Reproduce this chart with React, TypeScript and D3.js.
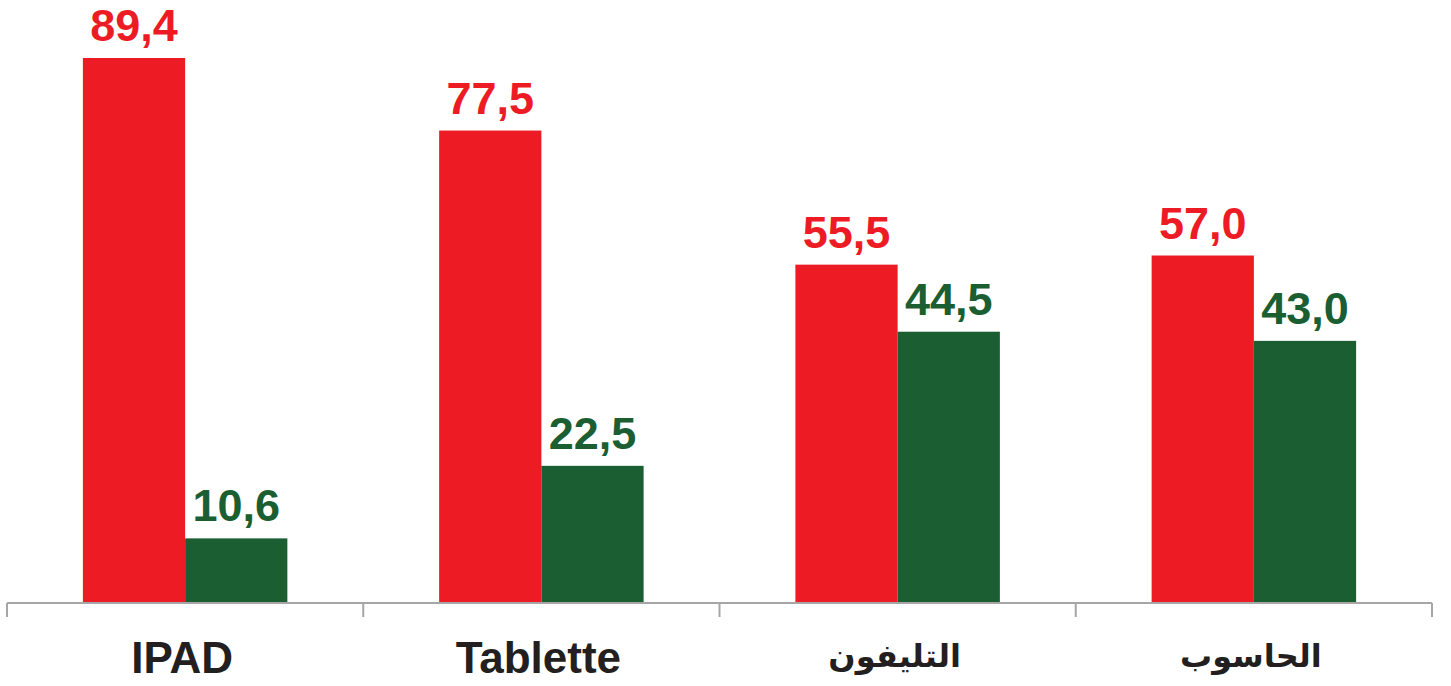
import { useRef, useEffect } from "react";
import * as d3 from "d3";

const categories = ["IPAD", "Tablette", "التليفون", "الحاسوب"];
const redValues = [89.4, 77.5, 55.5, 57.0];
const greenValues = [10.6, 22.5, 44.5, 43.0];
const seriesColors = ["#ED1C24", "#1B5E32"];

const width = 1451;
const height = 686;

export default function App() {
  const svgRef = useRef<SVGSVGElement>(null);

  useEffect(() => {
    if (!svgRef.current) return;
    const margin = { top: 0, right: 19, bottom: 83, left: 7 };
    const innerWidth = width - margin.left - margin.right;
    const baseY = height - margin.bottom;

    d3.select(svgRef.current).selectAll("*").remove();
    const svg = d3.select(svgRef.current);
    const g = svg.append("g").attr("transform", `translate(${margin.left},0)`);

    const x = d3.scaleBand<string>().domain(categories).range([0, innerWidth]).paddingInner(0).paddingOuter(0);
    const groupWidth = x.bandwidth() * 0.574;
    const sub = d3.scaleBand<number>().domain([0, 1]).range([0, groupWidth]);
    const y = d3.scaleLinear().domain([0, 89.4]).range([baseY, 58]);

    const fmt = (v: number) => v.toFixed(1).replace(".", ",");
    const series = [redValues, greenValues];

    series.forEach((vals, si) => {
      categories.forEach((cat, i) => {
        const bx = x(cat)! + (x.bandwidth() - groupWidth) / 2 + sub(si)!;
        g.append("rect")
          .attr("x", bx)
          .attr("y", y(vals[i]))
          .attr("width", sub.bandwidth())
          .attr("height", baseY - y(vals[i]))
          .attr("fill", seriesColors[si]);
        g.append("text")
          .attr("x", bx + sub.bandwidth() / 2)
          .attr("y", y(vals[i]) - 17)
          .attr("text-anchor", "middle")
          .style("font-family", "'Liberation Sans', Arial, sans-serif")
          .style("font-weight", "bold")
          .style("font-size", "45px")
          .attr("fill", seriesColors[si])
          .text(fmt(vals[i]));
      });
    });

    // Axis line with tick marks between categories
    const axis = g.append("g").attr("transform", `translate(0,${baseY})`);
    axis.append("line")
      .attr("x1", 0).attr("x2", innerWidth)
      .attr("y1", 0).attr("y2", 0)
      .attr("stroke", "#A6A6A6").attr("stroke-width", 2);
    const tickXs = categories.map((c) => x(c)!).concat([innerWidth]);
    axis.selectAll("line.tick")
      .data(tickXs)
      .join("line")
      .attr("class", "tick")
      .attr("x1", (d) => d).attr("x2", (d) => d)
      .attr("y1", 0).attr("y2", 14)
      .attr("stroke", "#A6A6A6").attr("stroke-width", 2);

    const isArabic = (s: string) => /[\u0600-\u06FF]/.test(s);
    axis.selectAll("text")
      .data(categories)
      .join("text")
      .attr("x", (d) => x(d)! + x.bandwidth() / 2 - 3)
      .attr("y", (d) => (isArabic(d) ? 64 : 70))
      .attr("text-anchor", "middle")
      .style("font-family", "'Liberation Sans', Arial, 'DejaVu Sans', sans-serif")
      .style("font-weight", "bold")
      .style("font-size", (d) => (isArabic(d) ? "32px" : "44px"))
      .attr("fill", "#231F20")
      .text((d) => d);
  }, []);

  return (
    <svg
      ref={svgRef}
      width={width}
      height={height}
      style={{ position: "absolute", left: 0, top: 0, background: "white" }}
    />
  );
}
